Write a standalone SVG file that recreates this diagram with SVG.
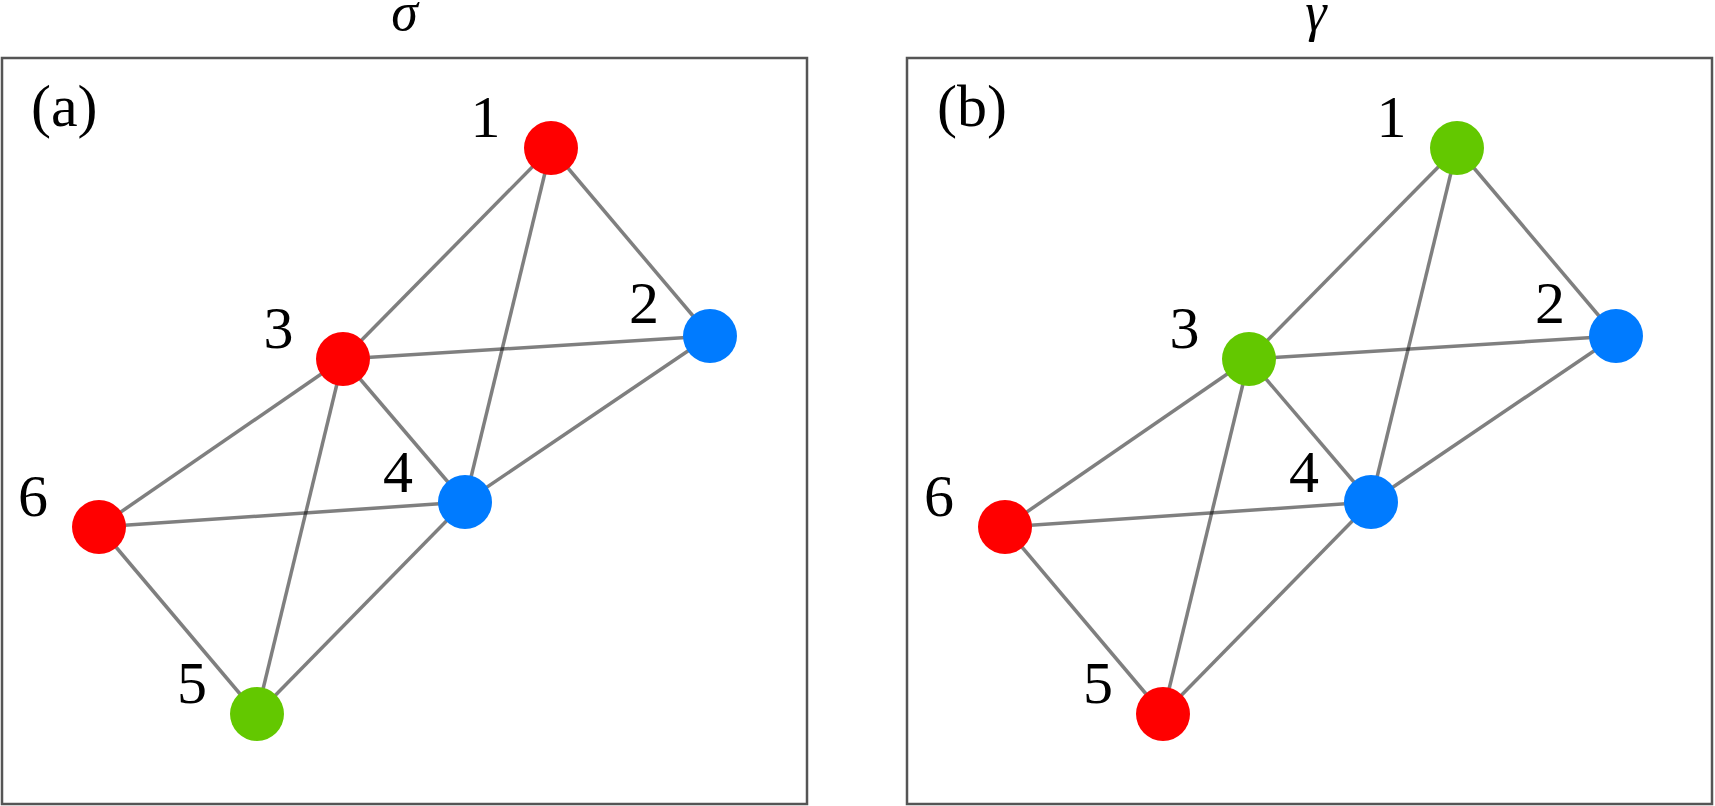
<svg xmlns="http://www.w3.org/2000/svg" width="1715" height="806" viewBox="0 0 1715 806">
<style>
.frame{fill:none;stroke:#555;stroke-width:2.5}
.edge{stroke:#000;stroke-opacity:0.5;stroke-width:3.5;fill:none}
.lbl{font-family:"Liberation Serif","DejaVu Serif",serif;font-size:60px;fill:#000}
.num{text-anchor:middle}
.title{font-style:italic;text-anchor:middle;font-size:54px}
.r{fill:#FF0000}.b{fill:#007BFF}.g{fill:#63C800}
</style>
<rect width="1715" height="806" fill="#fff"/>
<g id="panel-a-frame"><rect class="frame" x="2" y="58" width="805" height="746"/></g>
<g id="panel-b-frame"><rect class="frame" x="907" y="58" width="805" height="746"/></g>
<text class="lbl title" x="404.5" y="30">σ</text>
<text class="lbl title" x="1316" y="30">γ</text>
<text class="lbl" x="31" y="126">(a)</text>
<text class="lbl" x="937" y="126">(b)</text>
<g id="connectors-a">
<line class="edge" x1="551" y1="148" x2="710" y2="336"/>
<line class="edge" x1="551" y1="148" x2="343" y2="359"/>
<line class="edge" x1="551" y1="148" x2="465" y2="502"/>
<line class="edge" x1="710" y1="336" x2="343" y2="359"/>
<line class="edge" x1="710" y1="336" x2="465" y2="502"/>
<line class="edge" x1="343" y1="359" x2="465" y2="502"/>
<line class="edge" x1="343" y1="359" x2="99" y2="527"/>
<line class="edge" x1="343" y1="359" x2="257" y2="714"/>
<line class="edge" x1="465" y1="502" x2="99" y2="527"/>
<line class="edge" x1="465" y1="502" x2="257" y2="714"/>
<line class="edge" x1="99" y1="527" x2="257" y2="714"/>
</g>
<g id="connectors-b" transform="translate(906,0)">
<line class="edge" x1="551" y1="148" x2="710" y2="336"/>
<line class="edge" x1="551" y1="148" x2="343" y2="359"/>
<line class="edge" x1="551" y1="148" x2="465" y2="502"/>
<line class="edge" x1="710" y1="336" x2="343" y2="359"/>
<line class="edge" x1="710" y1="336" x2="465" y2="502"/>
<line class="edge" x1="343" y1="359" x2="465" y2="502"/>
<line class="edge" x1="343" y1="359" x2="99" y2="527"/>
<line class="edge" x1="343" y1="359" x2="257" y2="714"/>
<line class="edge" x1="465" y1="502" x2="99" y2="527"/>
<line class="edge" x1="465" y1="502" x2="257" y2="714"/>
<line class="edge" x1="99" y1="527" x2="257" y2="714"/>
</g>
<g id="a-node1"><circle class="r" cx="551" cy="148" r="27"/><text class="lbl num" x="485.5" y="137">1</text></g>
<g id="a-node2"><circle class="b" cx="710" cy="336" r="27"/><text class="lbl num" x="644" y="323">2</text></g>
<g id="a-node3"><circle class="r" cx="343" cy="359" r="27"/><text class="lbl num" x="278.5" y="348">3</text></g>
<g id="a-node4"><circle class="b" cx="465" cy="502" r="27"/><text class="lbl num" x="398" y="492">4</text></g>
<g id="a-node5"><circle class="g" cx="257" cy="714" r="27"/><text class="lbl num" x="192" y="703">5</text></g>
<g id="a-node6"><circle class="r" cx="99" cy="527" r="27"/><text class="lbl num" x="33" y="516">6</text></g>
<g id="b-node1"><circle class="g" cx="1457" cy="148" r="27"/><text class="lbl num" x="1391.5" y="137">1</text></g>
<g id="b-node2"><circle class="b" cx="1616" cy="336" r="27"/><text class="lbl num" x="1550" y="323">2</text></g>
<g id="b-node3"><circle class="g" cx="1249" cy="359" r="27"/><text class="lbl num" x="1184.5" y="348">3</text></g>
<g id="b-node4"><circle class="b" cx="1371" cy="502" r="27"/><text class="lbl num" x="1304" y="492">4</text></g>
<g id="b-node5"><circle class="r" cx="1163" cy="714" r="27"/><text class="lbl num" x="1098" y="703">5</text></g>
<g id="b-node6"><circle class="r" cx="1005" cy="527" r="27"/><text class="lbl num" x="939" y="516">6</text></g>
</svg>
